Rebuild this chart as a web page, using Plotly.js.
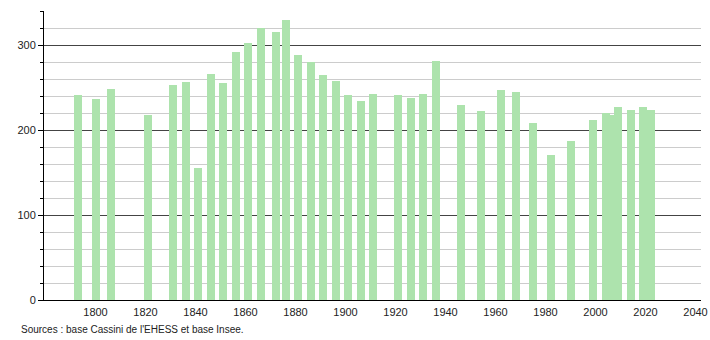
<!DOCTYPE html>
<html>
<head>
<meta charset="utf-8">
<script src="https://cdn.plot.ly/plotly-3.0.1.min.js"></script>
<style>html,body{margin:0;padding:0;background:#fff;}#chart{width:710px;height:340px;}</style>
</head>
<body>
<div id="chart"></div>
<script>
var years = [1793,1800,1806,1821,1831,1836,1841,1846,1851,1856,1861,1866,1872,1876,1881,1886,1891,1896,1901,1906,1911,1921,1926,1931,1936,1946,1954,1962,1968,1975,1982,1990,1999,2004,2006,2009,2014,2019,2022];
var population = [241,237,248,218,253,257,155,266,255,292,302,320,315,330,288,280,265,258,241,234,242,241,238,242,281,229,222,247,245,208,171,187,212,220,218,227,223,227,224];
var xTickValues = [1800,1820,1840,1860,1880,1900,1920,1940,1960,1980,2000,2020,2040];
var sourceText = "Sources : base Cassini de l'EHESS et base Insee.";

var trace = {
  type: 'bar',
  x: years,
  y: population,
  width: 3.2,
  marker: {color: '#ade3ad', line: {width: 0}},
  hoverinfo: 'skip'
};

var layout = {
  width: 710,
  height: 340,
  margin: {l: 44, r: 9, t: 11, b: 40, pad: 0},
  paper_bgcolor: '#ffffff',
  plot_bgcolor: '#ffffff',
  showlegend: false,
  font: {family: 'Liberation Sans, Arial, sans-serif', size: 11, color: '#222'},
  xaxis: {
    range: [1779.4, 2042.2],
    tickmode: 'array',
    tickvals: xTickValues,
    ticktext: xTickValues.map(String),
    showgrid: false,
    zeroline: false,
    showline: true,
    linecolor: '#000',
    linewidth: 1,
    ticks: '',
    ticklabelstandoff: 2,
    tickfont: {size: 11, color: '#222'},
    fixedrange: true
  },
  yaxis: {
    range: [0, 340],
    tick0: 0,
    dtick: 100,
    showgrid: true,
    gridcolor: '#444',
    gridwidth: 1,
    zeroline: false,
    showline: true,
    linecolor: '#000',
    linewidth: 1,
    ticks: 'outside',
    ticklen: 5,
    tickcolor: '#000',
    tickfont: {size: 11, color: '#222'},
    minor: {dtick: 20, showgrid: true, gridcolor: '#cccccc', gridwidth: 1, ticks: 'outside', ticklen: 3, tickcolor: '#000'},
    fixedrange: true
  },
  annotations: [{
    text: sourceText,
    xref: 'paper', yref: 'paper',
    x: -0.0375, y: -0.101,
    xanchor: 'left', yanchor: 'middle',
    showarrow: false,
    font: {size: 10, color: '#222'}
  }],
  bargap: 0
};

Plotly.newPlot('chart', [trace], layout, {staticPlot: true, displayModeBar: false});
</script>
</body>
</html>
